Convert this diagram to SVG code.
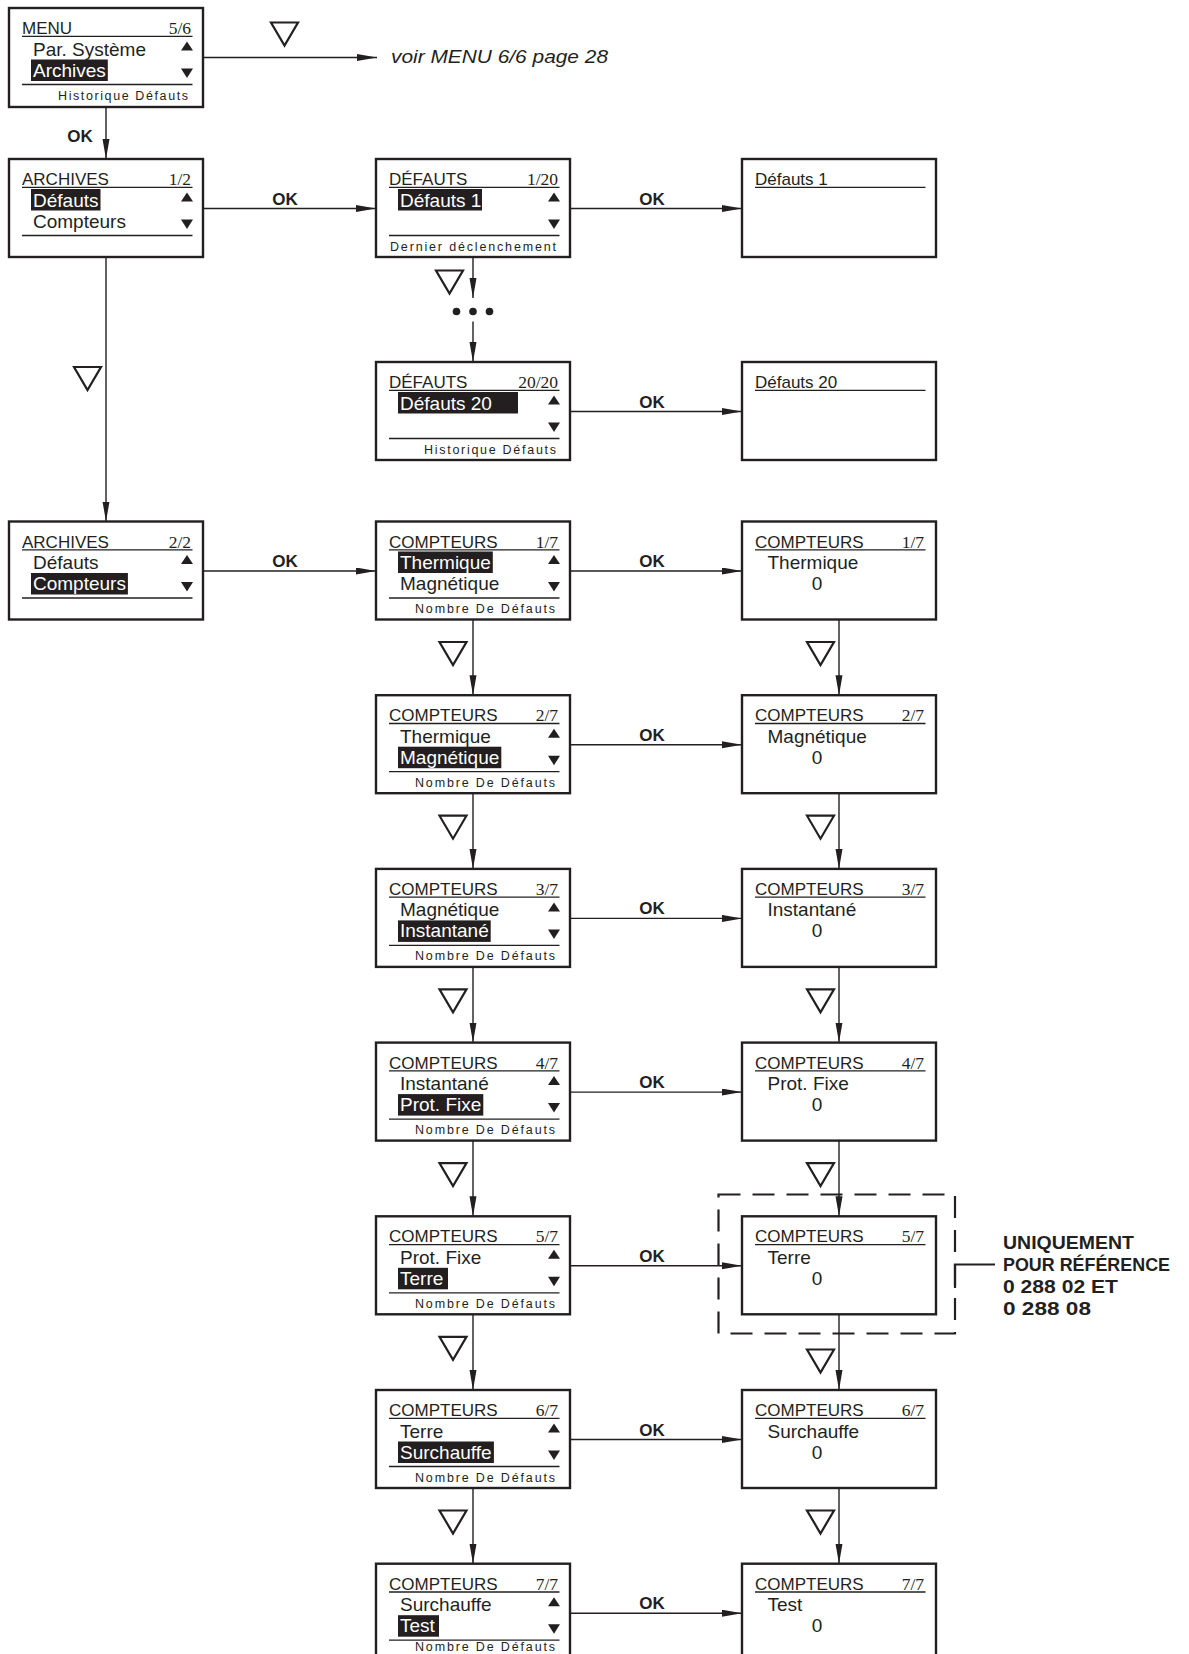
<svg xmlns="http://www.w3.org/2000/svg" xmlns:xlink="http://www.w3.org/1999/xlink" width="1189" height="1654" viewBox="0 0 1189 1654">
<style>
.box{fill:#fff;stroke:#231f20;stroke-width:2.4}
.ul{stroke:#231f20;stroke-width:1.3;fill:none}
.t{font-family:"Liberation Sans",Arial,sans-serif;font-size:17px;fill:#231f20}
.fr{font-family:"Liberation Serif","Times New Roman",serif;font-size:17.5px;fill:#231f20;text-anchor:end}
.it{font-family:"Liberation Sans",Arial,sans-serif;font-size:19px;fill:#231f20}
.w{fill:#fff}
.hl{fill:#231f20}
.ft{font-family:"Liberation Sans",Arial,sans-serif;font-size:12.5px;fill:#231f20}
.zero{font-family:"Liberation Sans",Arial,sans-serif;font-size:19px;fill:#231f20;text-anchor:middle}
.ok{font-family:"Liberation Sans",Arial,sans-serif;font-size:17px;font-weight:bold;fill:#231f20;text-anchor:middle}
.conn{stroke:#231f20;stroke-width:1.4;fill:none}
.tri{fill:none;stroke:#231f20;stroke-width:2.2;stroke-linejoin:miter}
.note{font-family:"Liberation Sans",Arial,sans-serif;font-size:19px;font-weight:bold;fill:#231f20}
.voir{font-family:"Liberation Sans",Arial,sans-serif;font-size:17.5px;font-style:italic;fill:#231f20}
.dash{fill:none;stroke:#231f20;stroke-width:2.2;stroke-dasharray:22 12}
</style>
<defs>
<marker id="arr" markerUnits="userSpaceOnUse" markerWidth="22" markerHeight="8" refX="20" refY="3.5" orient="auto">
<path d="M0,0 L20,3.5 L0,7 z" fill="#231f20"/>
</marker>
<polygon id="up" points="172,42.5 184,42.5 178,33.5" fill="#231f20"/>
<polygon id="dn" points="172,60.5 184,60.5 178,70" fill="#231f20"/>
<polygon id="vtri" class="tri" points="0,0 27,0 13.5,23"/>
</defs>

<!-- connectors -->
<g id="connectors">
<line class="conn" x1="203" y1="57.5" x2="377" y2="57.5" marker-end="url(#arr)"/>
<line class="conn" x1="106" y1="107" x2="106" y2="159" marker-end="url(#arr)"/>
<line class="conn" x1="203" y1="208.5" x2="376" y2="208.5" marker-end="url(#arr)"/>
<line class="conn" x1="570" y1="208.5" x2="742" y2="208.5" marker-end="url(#arr)"/>
<line class="conn" x1="473" y1="257" x2="473" y2="298" marker-end="url(#arr)"/>
<line class="conn" x1="473" y1="321.5" x2="473" y2="362" marker-end="url(#arr)"/>
<line class="conn" x1="570" y1="411.5" x2="742" y2="411.5" marker-end="url(#arr)"/>
<line class="conn" x1="106" y1="257" x2="106" y2="521.5" marker-end="url(#arr)"/>
<line class="conn" x1="203" y1="571" x2="376" y2="571" marker-end="url(#arr)"/>
<line class="conn" x1="570" y1="571" x2="742" y2="571" marker-end="url(#arr)"/>
<line class="conn" x1="570" y1="744.7" x2="742" y2="744.7" marker-end="url(#arr)"/>
<line class="conn" x1="570" y1="918.4" x2="742" y2="918.4" marker-end="url(#arr)"/>
<line class="conn" x1="570" y1="1092.1" x2="742" y2="1092.1" marker-end="url(#arr)"/>
<line class="conn" x1="570" y1="1265.8" x2="742" y2="1265.8" marker-end="url(#arr)"/>
<line class="conn" x1="570" y1="1439.5" x2="742" y2="1439.5" marker-end="url(#arr)"/>
<line class="conn" x1="570" y1="1613.2" x2="742" y2="1613.2" marker-end="url(#arr)"/>
<line class="conn" x1="473" y1="619.5" x2="473" y2="695.2" marker-end="url(#arr)"/>
<line class="conn" x1="473" y1="793.2" x2="473" y2="868.9" marker-end="url(#arr)"/>
<line class="conn" x1="473" y1="966.9" x2="473" y2="1042.6" marker-end="url(#arr)"/>
<line class="conn" x1="473" y1="1140.6" x2="473" y2="1216.3" marker-end="url(#arr)"/>
<line class="conn" x1="473" y1="1314.3" x2="473" y2="1390" marker-end="url(#arr)"/>
<line class="conn" x1="473" y1="1488" x2="473" y2="1563.7" marker-end="url(#arr)"/>
<line class="conn" x1="839" y1="619.5" x2="839" y2="695.2" marker-end="url(#arr)"/>
<line class="conn" x1="839" y1="793.2" x2="839" y2="868.9" marker-end="url(#arr)"/>
<line class="conn" x1="839" y1="966.9" x2="839" y2="1042.6" marker-end="url(#arr)"/>
<line class="conn" x1="839" y1="1140.6" x2="839" y2="1216.3" marker-end="url(#arr)"/>
<line class="conn" x1="839" y1="1314.3" x2="839" y2="1390" marker-end="url(#arr)"/>
<line class="conn" x1="839" y1="1488" x2="839" y2="1563.7" marker-end="url(#arr)"/>
<!-- down-key triangles -->
<use href="#vtri" x="271" y="22.5"/>
<use href="#vtri" x="74" y="367"/>
<use href="#vtri" x="436" y="270.5"/>
<use href="#vtri" x="439.5" y="642"/>
<use href="#vtri" x="439.5" y="815.7"/>
<use href="#vtri" x="439.5" y="989.4"/>
<use href="#vtri" x="439.5" y="1163.1"/>
<use href="#vtri" x="439.5" y="1336.8"/>
<use href="#vtri" x="439.5" y="1510.5"/>
<use href="#vtri" x="807" y="642"/>
<use href="#vtri" x="807" y="815.7"/>
<use href="#vtri" x="807" y="989.4"/>
<use href="#vtri" x="807" y="1163.1"/>
<use href="#vtri" x="807" y="1349.5"/>
<use href="#vtri" x="807" y="1510.5"/>
<!-- dots -->
<circle cx="456.5" cy="311.5" r="3.8" fill="#231f20"/>
<circle cx="473" cy="311.5" r="3.8" fill="#231f20"/>
<circle cx="489.5" cy="311.5" r="3.8" fill="#231f20"/>
<!-- OK labels -->
<text class="ok" x="80" y="141.7">OK</text>
<text class="ok" x="285" y="204.5">OK</text>
<text class="ok" x="652" y="204.5">OK</text>
<text class="ok" x="652" y="407.5">OK</text>
<text class="ok" x="285" y="567">OK</text>
<text class="ok" x="652" y="567">OK</text>
<text class="ok" x="652" y="740.7">OK</text>
<text class="ok" x="652" y="914.4">OK</text>
<text class="ok" x="652" y="1088.1">OK</text>
<text class="ok" x="652" y="1261.8">OK</text>
<text class="ok" x="652" y="1435.5">OK</text>
<text class="ok" x="652" y="1609.2">OK</text>
<text class="voir" x="391" y="62.5" textLength="217" lengthAdjust="spacingAndGlyphs">voir MENU 6/6 page 28</text>
</g>

<!-- MENU 5/6 -->
<g id="menu" transform="translate(9,8)">
<rect class="box" x="0" y="0" width="194" height="99"/>
<text class="t" x="13" y="26">MENU</text><text class="fr" x="182" y="26">5/6</text>
<line class="ul" x1="13" y1="28.3" x2="183.5" y2="28.3"/>
<use href="#up"/><use href="#dn"/>
<text class="it" x="24" y="47.5">Par. Système</text>
<rect class="hl" x="22" y="51.5" width="76.8" height="21.5"/>
<text class="it w" x="24" y="68.5">Archives</text>
<line class="ul" x1="13" y1="76.5" x2="183.5" y2="76.5"/>
<text class="ft" x="49" y="91.5" textLength="130" lengthAdjust="spacing">Historique Défauts</text>
</g>

<!-- ARCHIVES 1/2 -->
<g id="archives1" transform="translate(9,159)">
<rect class="box" x="0" y="0" width="194" height="98"/>
<text class="t" x="13" y="26">ARCHIVES</text><text class="fr" x="182" y="26">1/2</text>
<line class="ul" x1="13" y1="28.3" x2="183.5" y2="28.3"/>
<use href="#up"/><use href="#dn"/>
<rect class="hl" x="22" y="30" width="69.5" height="21.5"/>
<text class="it w" x="24" y="47.5">Défauts</text>
<text class="it" x="24" y="68.5">Compteurs</text>
<line class="ul" x1="13" y1="76.5" x2="183.5" y2="76.5"/>
</g>

<!-- DEFAUTS 1/20 -->
<g id="defauts1" transform="translate(376,159)">
<rect class="box" x="0" y="0" width="194" height="98"/>
<text class="t" x="13" y="26">DÉFAUTS</text><text class="fr" x="182" y="26">1/20</text>
<line class="ul" x1="13" y1="28.3" x2="183.5" y2="28.3"/>
<use href="#up"/><use href="#dn"/>
<rect class="hl" x="22" y="30" width="84" height="21.5"/>
<text class="it w" x="24" y="47.5">Défauts 1</text>
<line class="ul" x1="13" y1="76.5" x2="183.5" y2="76.5"/>
<text class="ft" x="14" y="91.5" textLength="166" lengthAdjust="spacing">Dernier déclenchement</text>
</g>

<!-- Defauts 1 detail -->
<g id="defauts1-detail" transform="translate(742,159)">
<rect class="box" x="0" y="0" width="194" height="98"/>
<text class="t" x="13" y="26">Défauts 1</text>
<line class="ul" x1="13" y1="28.3" x2="183.5" y2="28.3"/>
</g>

<!-- DEFAUTS 20/20 -->
<g id="defauts20" transform="translate(376,362)">
<rect class="box" x="0" y="0" width="194" height="98"/>
<text class="t" x="13" y="26">DÉFAUTS</text><text class="fr" x="182" y="26">20/20</text>
<line class="ul" x1="13" y1="28.3" x2="183.5" y2="28.3"/>
<use href="#up"/><use href="#dn"/>
<rect class="hl" x="22" y="30" width="120" height="21.5"/>
<text class="it w" x="24" y="47.5">Défauts 20</text>
<line class="ul" x1="13" y1="76.5" x2="183.5" y2="76.5"/>
<text class="ft" x="48" y="91.5" textLength="132" lengthAdjust="spacing">Historique Défauts</text>
</g>

<!-- Defauts 20 detail -->
<g id="defauts20-detail" transform="translate(742,362)">
<rect class="box" x="0" y="0" width="194" height="98"/>
<text class="t" x="13" y="26">Défauts 20</text>
<line class="ul" x1="13" y1="28.3" x2="183.5" y2="28.3"/>
</g>

<!-- ARCHIVES 2/2 -->
<g id="archives2" transform="translate(9,521.5)">
<rect class="box" x="0" y="0" width="194" height="98"/>
<text class="t" x="13" y="26">ARCHIVES</text><text class="fr" x="182" y="26">2/2</text>
<line class="ul" x1="13" y1="28.3" x2="183.5" y2="28.3"/>
<use href="#up"/><use href="#dn"/>
<text class="it" x="24" y="47.5">Défauts</text>
<rect class="hl" x="22" y="51.5" width="96.9" height="21.5"/>
<text class="it w" x="24" y="68.5">Compteurs</text>
<line class="ul" x1="13" y1="76.5" x2="183.5" y2="76.5"/>
</g>

<!-- COMPTEURS list screens -->
<g id="compteurs1" transform="translate(376,521.5)">
<rect class="box" x="0" y="0" width="194" height="98"/>
<text class="t" x="13" y="26">COMPTEURS</text><text class="fr" x="182" y="26">1/7</text>
<line class="ul" x1="13" y1="28.3" x2="183.5" y2="28.3"/>
<use href="#up"/><use href="#dn"/>
<rect class="hl" x="22" y="30" width="94.8" height="21.5"/>
<text class="it w" x="24" y="47.5">Thermique</text>
<text class="it" x="24" y="68.5">Magnétique</text>
<line class="ul" x1="13" y1="76.5" x2="183.5" y2="76.5"/>
<text class="ft" x="39" y="91.5" textLength="140" lengthAdjust="spacing">Nombre De Défauts</text>
</g>
<g id="compteurs2" transform="translate(376,695.2)">
<rect class="box" x="0" y="0" width="194" height="98"/>
<text class="t" x="13" y="26">COMPTEURS</text><text class="fr" x="182" y="26">2/7</text>
<line class="ul" x1="13" y1="28.3" x2="183.5" y2="28.3"/>
<use href="#up"/><use href="#dn"/>
<text class="it" x="24" y="47.5">Thermique</text>
<rect class="hl" x="22" y="51.5" width="103.3" height="21.5"/>
<text class="it w" x="24" y="68.5">Magnétique</text>
<line class="ul" x1="13" y1="76.5" x2="183.5" y2="76.5"/>
<text class="ft" x="39" y="91.5" textLength="140" lengthAdjust="spacing">Nombre De Défauts</text>
</g>
<g id="compteurs3" transform="translate(376,868.9)">
<rect class="box" x="0" y="0" width="194" height="98"/>
<text class="t" x="13" y="26">COMPTEURS</text><text class="fr" x="182" y="26">3/7</text>
<line class="ul" x1="13" y1="28.3" x2="183.5" y2="28.3"/>
<use href="#up"/><use href="#dn"/>
<text class="it" x="24" y="47.5">Magnétique</text>
<rect class="hl" x="22" y="51.5" width="92.7" height="21.5"/>
<text class="it w" x="24" y="68.5">Instantané</text>
<line class="ul" x1="13" y1="76.5" x2="183.5" y2="76.5"/>
<text class="ft" x="39" y="91.5" textLength="140" lengthAdjust="spacing">Nombre De Défauts</text>
</g>
<g id="compteurs4" transform="translate(376,1042.6)">
<rect class="box" x="0" y="0" width="194" height="98"/>
<text class="t" x="13" y="26">COMPTEURS</text><text class="fr" x="182" y="26">4/7</text>
<line class="ul" x1="13" y1="28.3" x2="183.5" y2="28.3"/>
<use href="#up"/><use href="#dn"/>
<text class="it" x="24" y="47.5">Instantané</text>
<rect class="hl" x="22" y="51.5" width="85.3" height="21.5"/>
<text class="it w" x="24" y="68.5">Prot. Fixe</text>
<line class="ul" x1="13" y1="76.5" x2="183.5" y2="76.5"/>
<text class="ft" x="39" y="91.5" textLength="140" lengthAdjust="spacing">Nombre De Défauts</text>
</g>
<g id="compteurs5" transform="translate(376,1216.3)">
<rect class="box" x="0" y="0" width="194" height="98"/>
<text class="t" x="13" y="26">COMPTEURS</text><text class="fr" x="182" y="26">5/7</text>
<line class="ul" x1="13" y1="28.3" x2="183.5" y2="28.3"/>
<use href="#up"/><use href="#dn"/>
<text class="it" x="24" y="47.5">Prot. Fixe</text>
<rect class="hl" x="22" y="51.5" width="50" height="21.5"/>
<text class="it w" x="24" y="68.5">Terre</text>
<line class="ul" x1="13" y1="76.5" x2="183.5" y2="76.5"/>
<text class="ft" x="39" y="91.5" textLength="140" lengthAdjust="spacing">Nombre De Défauts</text>
</g>
<g id="compteurs6" transform="translate(376,1390)">
<rect class="box" x="0" y="0" width="194" height="98"/>
<text class="t" x="13" y="26">COMPTEURS</text><text class="fr" x="182" y="26">6/7</text>
<line class="ul" x1="13" y1="28.3" x2="183.5" y2="28.3"/>
<use href="#up"/><use href="#dn"/>
<text class="it" x="24" y="47.5">Terre</text>
<rect class="hl" x="22" y="51.5" width="95.9" height="21.5"/>
<text class="it w" x="24" y="68.5">Surchauffe</text>
<line class="ul" x1="13" y1="76.5" x2="183.5" y2="76.5"/>
<text class="ft" x="39" y="91.5" textLength="140" lengthAdjust="spacing">Nombre De Défauts</text>
</g>
<g id="compteurs7" transform="translate(376,1563.7)">
<rect class="box" x="0" y="0" width="194" height="98"/>
<text class="t" x="13" y="26">COMPTEURS</text><text class="fr" x="182" y="26">7/7</text>
<line class="ul" x1="13" y1="28.3" x2="183.5" y2="28.3"/>
<use href="#up"/><use href="#dn"/>
<text class="it" x="24" y="47.5">Surchauffe</text>
<rect class="hl" x="22" y="51.5" width="41" height="21.5"/>
<text class="it w" x="24" y="68.5">Test</text>
<line class="ul" x1="13" y1="76.5" x2="183.5" y2="76.5"/>
<text class="ft" x="39" y="87.3" textLength="140" lengthAdjust="spacing">Nombre De Défauts</text>
</g>

<!-- COMPTEURS value screens -->
<g id="valeur1" transform="translate(742,521.5)">
<rect class="box" x="0" y="0" width="194" height="98"/>
<text class="t" x="13" y="26">COMPTEURS</text><text class="fr" x="182" y="26">1/7</text>
<line class="ul" x1="13" y1="28.3" x2="183.5" y2="28.3"/>
<text class="it" x="25.5" y="47.5">Thermique</text>
<text class="zero" x="75" y="68.5">0</text>
</g>
<g id="valeur2" transform="translate(742,695.2)">
<rect class="box" x="0" y="0" width="194" height="98"/>
<text class="t" x="13" y="26">COMPTEURS</text><text class="fr" x="182" y="26">2/7</text>
<line class="ul" x1="13" y1="28.3" x2="183.5" y2="28.3"/>
<text class="it" x="25.5" y="47.5">Magnétique</text>
<text class="zero" x="75" y="68.5">0</text>
</g>
<g id="valeur3" transform="translate(742,868.9)">
<rect class="box" x="0" y="0" width="194" height="98"/>
<text class="t" x="13" y="26">COMPTEURS</text><text class="fr" x="182" y="26">3/7</text>
<line class="ul" x1="13" y1="28.3" x2="183.5" y2="28.3"/>
<text class="it" x="25.5" y="47.5">Instantané</text>
<text class="zero" x="75" y="68.5">0</text>
</g>
<g id="valeur4" transform="translate(742,1042.6)">
<rect class="box" x="0" y="0" width="194" height="98"/>
<text class="t" x="13" y="26">COMPTEURS</text><text class="fr" x="182" y="26">4/7</text>
<line class="ul" x1="13" y1="28.3" x2="183.5" y2="28.3"/>
<text class="it" x="25.5" y="47.5">Prot. Fixe</text>
<text class="zero" x="75" y="68.5">0</text>
</g>
<g id="valeur5" transform="translate(742,1216.3)">
<rect class="box" x="0" y="0" width="194" height="98"/>
<text class="t" x="13" y="26">COMPTEURS</text><text class="fr" x="182" y="26">5/7</text>
<line class="ul" x1="13" y1="28.3" x2="183.5" y2="28.3"/>
<text class="it" x="25.5" y="47.5">Terre</text>
<text class="zero" x="75" y="68.5">0</text>
</g>
<g id="valeur6" transform="translate(742,1390)">
<rect class="box" x="0" y="0" width="194" height="98"/>
<text class="t" x="13" y="26">COMPTEURS</text><text class="fr" x="182" y="26">6/7</text>
<line class="ul" x1="13" y1="28.3" x2="183.5" y2="28.3"/>
<text class="it" x="25.5" y="47.5">Surchauffe</text>
<text class="zero" x="75" y="68.5">0</text>
</g>
<g id="valeur7" transform="translate(742,1563.7)">
<rect class="box" x="0" y="0" width="194" height="98"/>
<text class="t" x="13" y="26">COMPTEURS</text><text class="fr" x="182" y="26">7/7</text>
<line class="ul" x1="13" y1="28.3" x2="183.5" y2="28.3"/>
<text class="it" x="25.5" y="47.5">Test</text>
<text class="zero" x="75" y="68.5">0</text>
</g>

<!-- reference note -->
<g id="note">
<rect class="dash" x="718.5" y="1194.5" width="236.5" height="139"/>
<path d="M955,1288 V1264.5 H995" fill="none" stroke="#231f20" stroke-width="2.2"/>
<text class="note" x="1003" y="1248.5" textLength="131" lengthAdjust="spacingAndGlyphs">UNIQUEMENT</text>
<text class="note" x="1003" y="1270.5" textLength="167" lengthAdjust="spacingAndGlyphs">POUR RÉFÉRENCE</text>
<text class="note" x="1003" y="1292.5" textLength="115" lengthAdjust="spacingAndGlyphs">0 288 02 ET</text>
<text class="note" x="1003" y="1314.5" textLength="88" lengthAdjust="spacingAndGlyphs">0 288 08</text>
</g>
</svg>
